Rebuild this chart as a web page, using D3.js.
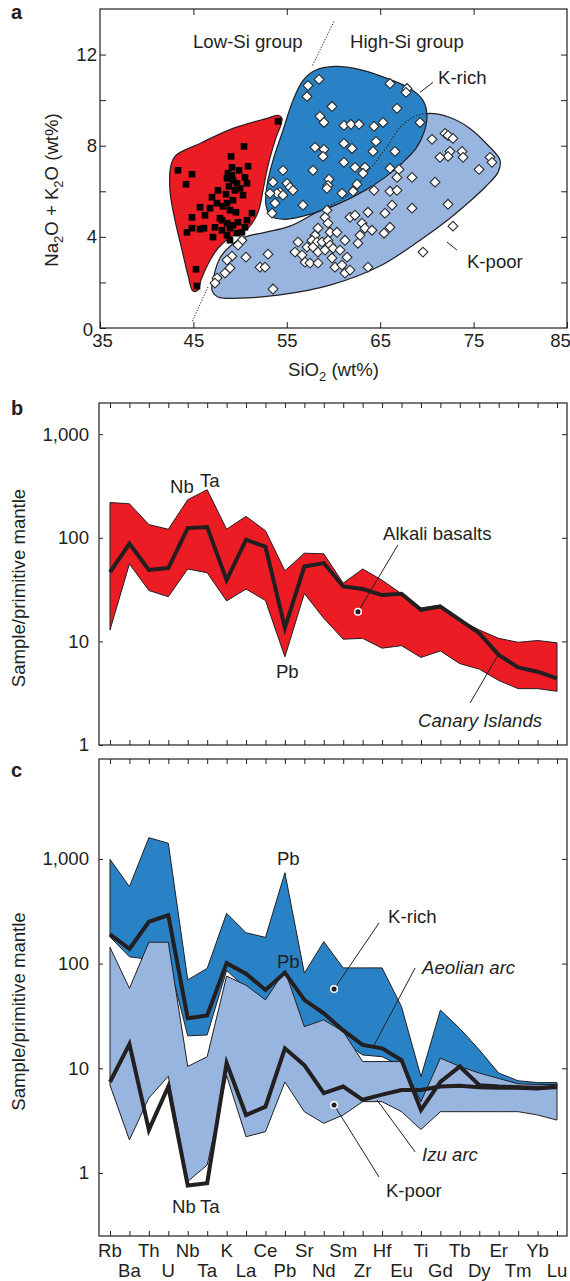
<!DOCTYPE html>
<html><head><meta charset="utf-8">
<script src="https://cdn.jsdelivr.net/npm/d3@7/dist/d3.min.js"></script>
<style>html,body{margin:0;padding:0;background:#fff;}svg{display:block;}</style>
</head><body>
<svg id="fig" width="570" height="1281"></svg>
<script>
// ---------- Panel a: total alkali vs silica ----------
const lowSiSamples = [
[54.06,9.07],[50.42,7.97],[49.03,7.53],[43.35,6.92],[44.85,6.75],[50.85,7.10],[49.13,7.05],[48.70,6.79],[49.13,6.70],[48.60,6.57],
[49.24,6.48],[49.67,6.35],[50.52,6.61],[50.74,6.35],[49.99,6.13],[49.45,6.04],[44.21,6.31],[46.99,5.74],[48.49,5.87],[49.24,5.61],
[48.60,5.48],[48.17,5.34],[45.71,5.30],[46.78,5.26],[47.53,5.48],[44.85,4.86],[47.85,4.82],[48.92,5.17],[50.74,4.73],[51.27,5.04],
[50.52,4.42],[48.06,4.73],[48.60,4.60],[49.24,4.51],[48.06,4.29],[48.60,4.07],[47.10,3.99],[45.71,4.34],[46.13,4.38],[44.31,4.20],
[44.85,4.38],[48.92,3.85],[49.67,4.16],[50.20,4.20],[45.28,2.58],[45.39,1.84],[49.56,5.08],[50.31,5.83],[47.63,6.04],[46.24,4.95],
[49.77,4.64],[48.92,4.38],[47.31,4.42],[49.88,6.92],[48.81,6.22]
];
const kRichSamples = [
[58.45,10.91],[57.27,10.64],[57.16,10.16],[66.05,10.73],[67.87,10.51],[67.76,10.34],[59.84,9.72],[66.80,9.64],[58.55,9.29],[58.98,9.02],
[61.12,8.89],[61.87,8.94],[62.73,8.94],[64.34,8.85],[65.30,9.02],[69.26,9.02],[58.02,7.93],[58.98,7.84],[58.88,7.53],[61.12,8.10],
[61.98,7.88],[64.55,8.19],[64.23,7.75],[66.58,7.75],[61.12,7.27],[62.30,7.05],[63.37,7.05],[63.16,6.79],[57.80,6.92],[54.59,6.92],
[59.52,6.53],[59.41,6.26],[59.30,6.13],[66.05,7.01],[67.01,6.96],[66.80,6.61],[62.52,6.31],[62.09,6.00],[60.91,5.91],[55.02,6.35],
[55.34,6.18],[55.66,6.04],[54.27,5.96],[53.52,6.40],[53.95,5.91],[53.20,5.91],[54.59,5.83],[53.74,5.48],[53.42,5.04],[56.73,5.39]
];
const kPoorSamples = [
[70.55,8.28],[71.94,8.54],[72.26,8.45],[72.79,8.32],[72.47,7.75],[72.26,7.53],[71.40,7.49],[73.76,7.75],[73.87,7.49],[76.76,7.49],
[76.97,7.27],[75.58,6.96],[70.87,6.40],[68.41,6.61],[64.34,6.04],[66.05,6.00],[66.80,6.04],[66.27,5.39],[65.51,5.04],[68.41,5.26],
[72.26,5.43],[72.79,4.47],[69.58,3.33],[63.69,2.67],[59.30,5.17],[59.09,4.86],[61.77,4.86],[62.30,4.95],[63.69,5.08],[63.05,4.60],
[63.37,4.38],[64.12,4.29],[65.41,4.16],[66.05,4.42],[62.84,4.07],[62.62,3.72],[59.41,4.60],[59.63,4.20],[60.37,4.20],[58.34,4.38],
[58.02,4.07],[57.70,3.85],[58.23,3.77],[58.77,3.77],[59.41,3.85],[59.63,3.64],[56.20,3.77],[55.88,3.33],[57.16,3.55],[57.80,3.55],
[58.34,3.33],[59.09,3.42],[59.95,3.50],[60.70,3.42],[61.23,3.85],[56.63,3.20],[56.95,2.89],[57.48,2.85],[58.34,2.85],[59.84,3.07],
[61.45,3.11],[60.16,2.67],[60.91,2.76],[61.23,2.41],[61.77,2.54],[50.20,3.85],[49.77,3.64],[49.13,3.15],[48.60,2.98],[48.92,2.63],
[48.38,2.41],[47.53,2.19],[47.31,1.97],[50.63,3.11],[52.99,3.24],[52.13,2.67],[52.67,2.67],[53.52,1.71]
];
// outlines of the three compositional fields (SiO2, Na2O+K2O)
const lowSiField = [[42.60,7.14],[43.14,7.58],[45.71,8.10],[49.24,8.76],[52.88,9.20],[54.06,9.33],[54.49,9.20],[53.74,8.23],[52.99,7.14],[52.45,6.04],
[51.92,5.08],[50.85,4.38],[49.13,4.03],[47.63,3.50],[46.56,2.80],[45.81,2.10],[45.49,1.66],[44.96,1.62],[44.42,2.32],[43.78,3.42],[43.03,4.73],[42.49,6.04]];
const kRichField = [[56.73,10.86],[58.02,11.30],[60.16,11.48],[62.84,11.34],[65.51,10.99],[68.19,10.51],[69.58,9.99],[70.01,9.33],[69.69,8.59],[68.83,7.88],
[67.33,7.23],[65.51,6.61],[63.37,6.04],[60.70,5.48],[57.48,4.99],[54.81,4.77],[53.31,4.91],[52.77,5.39],[52.88,6.26],[53.52,7.36],[54.59,8.67],[55.66,9.99]];
const kPoorField = [[46.99,1.66],[47.21,2.32],[47.85,3.07],[48.92,3.59],[50.52,3.99],[52.67,4.20],[55.34,4.47],[58.55,5.17],[61.55,5.83],[63.48,6.75],
[65.84,8.02],[67.12,8.80],[68.73,9.29],[70.33,9.42],[72.47,9.24],[74.61,8.76],[76.54,8.02],[77.83,7.36],[77.61,6.83],[76.33,6.22],
[74.61,5.56],[72.47,4.82],[69.26,3.85],[64.98,2.72],[59.63,1.88],[54.27,1.45],[49.99,1.31],[47.63,1.36]];
// low-Si / high-Si dividing line, shown outside the fields
const dividerTop = [[60.05,13.45],[57.70,11.48]];
const dividerBottom = [[46.56,1.80],[44.85,0.26]];
const silicaTicks = [35,45,55,65,75,85];
const alkaliTicks = [0,2,4,6,8,10,12,14];

// ---------- Panels b and c: primitive-mantle normalised patterns ----------
const elements = ["Rb","Ba","Th","U","Nb","Ta","K","La","Ce","Pb","Sr","Nd","Sm","Zr","Hf","Eu","Ti","Gd","Tb","Dy","Er","Tm","Yb","Lu"];
const canaryUpper = [219,213,134,121,233,291,121,161,117,48,71,70,36.5,50,39,28.8,21,22.5,16.1,12.9,10.7,9.8,10.2,9.7];
const canaryLower = [12.9,56,31,27,50,46,24.6,32,24.8,7.1,29,16.7,10.5,10.7,8.6,9.1,7.0,8.1,6.1,5.4,4.2,3.5,3.5,3.3];
const alkaliBasaltMean = [46.6,87.5,49,51,124,127,39,96,82,13.5,52.8,57,33.9,32,28,28.8,20.2,21.7,16.1,12,7.4,5.6,5.1,4.4];

const kRichUpper = [990,543,1595,1410,70,90,302,197,178,738,81,162,91,91,91,38.7,8.3,36,24,15,9.0,7.6,7.3,7.3];
const kRichLower = [180,116,110,110,20.4,20.8,86,58,42,80,23,27,18,13.4,12.9,10.5,4.0,11,9.5,8.2,7.4,6.8,6.7,6.7];
const kPoorUpper = [143,58,160,160,10.4,12.9,76,62,45,86,25,29,22.4,11.6,11.6,11.6,4.8,12.5,10.4,9.0,8.0,7.1,7.0,7.0];
const kPoorLower = [6.9,2.07,5.2,8.4,0.83,1.19,8.5,2.22,2.48,7.4,3.85,2.98,3.58,4.8,4.8,3.85,2.6,3.85,3.85,3.85,3.85,3.85,3.58,3.2];
const aeolianMean = [190,138,251,291,30,32,101,80,56,82,45,33.5,23,16.7,15.5,12,4.0,7.4,10.4,6.9,6.7,6.6,6.5,6.6];
const izuMean = [7.4,17,2.58,6.7,0.76,0.80,11.2,3.58,4.3,15.5,10.7,5.8,6.7,5.0,5.6,6.2,6.2,6.7,6.8,6.6,6.5,6.5,6.4,6.7];
const mantleTicks = [1,10,100,1000];

// ---------- styling ----------
const INK = "#231f20", RED = "#ec1c24", DARK = "#2a82c6", LIGHT = "#97b5df";
const FONT = "'Liberation Sans', Arial, Helvetica, sans-serif";
const FS = 18.6;
const svg = d3.select("#fig").attr("font-family", FONT);
const defs = svg.append("defs");

function tidy(g) {
  g.attr("color", INK);
  g.select(".domain").remove();
  g.selectAll(".tick line").attr("stroke-width", 1);
  g.selectAll(".tick text").attr("font-size", FS).attr("font-family", FONT).attr("fill", INK);
  return g;
}
function label(g, x, y, txt, opts = {}) {
  return g.append("text").attr("x", x).attr("y", y).text(txt)
    .attr("font-size", opts.size || FS).attr("fill", INK)
    .attr("font-style", opts.italic ? "italic" : null)
    .attr("font-weight", opts.bold ? "bold" : null)
    .attr("text-anchor", opts.anchor || "start");
}
function formula(textSel, parts) {
  let low = false;
  parts.forEach(([s, sub]) => {
    const t = textSel.append("tspan").text(s);
    if (sub) { t.attr("font-size", 13).attr("dy", 5); low = true; }
    else if (low) { t.attr("dy", -5); low = false; }
  });
}
function leader(g, sx, sy, pts) {
  g.append("path").attr("d", d3.line().x(d => sx(d[0])).y(d => sy(d[1]))(pts))
    .attr("fill", "none").attr("stroke", INK).attr("stroke-width", 1);
}
function dot(g, sx, sy, p) {
  g.append("circle").attr("cx", sx(p[0])).attr("cy", sy(p[1])).attr("r", 3.3)
    .attr("fill", INK).attr("stroke", "#fff").attr("stroke-width", 1.5);
}

// ================= Panel a =================
const A = {l: 100, r: 567, t: 9, b: 328};
const xA = d3.scaleLinear().domain([35, 85]).range([A.l, A.r]);
const yA = d3.scaleLinear().domain([0, 14]).range([A.b, A.t]);
const gA = svg.append("g");
const fieldPath = d3.line().x(d => xA(d[0])).y(d => yA(d[1])).curve(d3.curveCatmullRomClosed.alpha(0.5));
defs.append("clipPath").attr("id", "kRichClip").append("path").attr("d", fieldPath(kRichField));

gA.append("path").attr("d", fieldPath(kPoorField)).attr("fill", LIGHT).attr("stroke", INK).attr("stroke-width", 1.2);
gA.append("path").attr("d", fieldPath(lowSiField)).attr("fill", RED).attr("stroke", INK).attr("stroke-width", 1.2);
gA.append("path").attr("d", fieldPath(kRichField)).attr("fill", DARK).attr("stroke", INK).attr("stroke-width", 1.2);
// hidden part of the K-poor outline, dotted where it runs under the K-rich field
gA.append("path").attr("d", fieldPath(kPoorField)).attr("fill", "none").attr("stroke", INK)
  .attr("stroke-width", 1.2).attr("stroke-dasharray", "1.2,2").attr("clip-path", "url(#kRichClip)");

const straight = d3.line().x(d => xA(d[0])).y(d => yA(d[1]));
[dividerTop, dividerBottom].forEach(seg =>
  gA.append("path").attr("d", straight(seg)).attr("fill", "none").attr("stroke", INK)
    .attr("stroke-width", 1).attr("stroke-dasharray", "1.2,1.6"));

const squareSym = d3.symbol(d3.symbolSquare, 44)();
gA.selectAll("path.lowSi").data(lowSiSamples).join("path").attr("class", "lowSi")
  .attr("d", squareSym).attr("fill", "#000")
  .attr("transform", d => `translate(${xA(d[0])},${yA(d[1])})`);
const diamondSym = d3.symbol(d3.symbolSquare, 48)();
gA.selectAll("path.hiSi").data(kPoorSamples.concat(kRichSamples)).join("path").attr("class", "hiSi")
  .attr("d", diamondSym).attr("fill", "#fff").attr("stroke", "#2b2b2b").attr("stroke-width", 1.1)
  .attr("transform", d => `translate(${xA(d[0])},${yA(d[1])}) rotate(45)`);

const bottomA = tidy(gA.append("g").attr("transform", `translate(0,${A.b})`)
  .call(d3.axisBottom(xA).tickValues(silicaTicks).tickSize(-6).tickPadding(6).tickFormat(d3.format("d"))));
bottomA.selectAll(".tick text").filter(d => d === 85).attr("x", -7);
bottomA.selectAll(".tick text").filter(d => d === 35).attr("x", 2);
tidy(gA.append("g").attr("transform", `translate(0,${A.t})`)
  .call(d3.axisTop(xA).tickValues(silicaTicks.slice(1, -1)).tickSize(-6).tickFormat("")));
const leftA = tidy(gA.append("g").attr("transform", `translate(${A.l},0)`)
  .call(d3.axisLeft(yA).tickValues(alkaliTicks.slice(0, -1)).tickSize(-6).tickPadding(3)
    .tickFormat(d => d % 4 === 0 ? d : "")));
leftA.selectAll(".tick text").filter(d => d === 0).attr("x", -7).attr("dy", "0.42em");
tidy(gA.append("g").attr("transform", `translate(${A.r},0)`)
  .call(d3.axisRight(yA).tickValues(alkaliTicks.slice(1, -1)).tickSize(-6).tickFormat("")));
gA.append("rect").attr("x", A.l).attr("y", A.t).attr("width", A.r - A.l).attr("height", A.b - A.t)
  .attr("fill", "none").attr("stroke", INK).attr("stroke-width", 1.2);

label(gA, xA(44.96), yA(12.31), "Low-Si group");
label(gA, xA(61.77), yA(12.31), "High-Si group");
label(gA, xA(71.19), yA(10.73), "K-rich");
leader(gA, xA, yA, [[69.26, 10.34], [70.65, 10.78]]);
label(gA, xA(74.29), yA(2.63), "K-poor");
leader(gA, xA, yA, [[72.15, 3.77], [73.22, 3.42]]);
formula(label(gA, (A.l + A.r) / 2, 376, "", {anchor: "middle"}), [["SiO"], ["2", 1], [" (wt%)"]]);
formula(label(gA, 0, 0, "", {anchor: "middle"}).attr("transform", "translate(58,190) rotate(-90)"),
  [["Na"], ["2", 1], ["O + K"], ["2", 1], ["O (wt%)"]]);
label(gA, 11, 19, "a", {bold: true, size: 20});

// ================= Panels b and c =================
const xE = d3.scalePoint().domain(elements).range([110, 557]);
const xi = i => xE.range()[0] + i * xE.step();   // fractional element position

function spiderFrame(g, y, top, bottom) {
  tidy(g.append("g").attr("transform", `translate(0,${top})`).call(d3.axisTop(xE).tickSize(-5).tickFormat("")));
  tidy(g.append("g").attr("transform", `translate(0,${bottom})`).call(d3.axisBottom(xE).tickSize(-5).tickFormat("")));
  tidy(g.append("g").attr("transform", `translate(99,0)`)
    .call(d3.axisLeft(y).tickValues(mantleTicks).tickSize(-4).tickPadding(10).tickFormat(d3.format(","))));
  tidy(g.append("g").attr("transform", `translate(567,0)`)
    .call(d3.axisRight(y).tickValues(mantleTicks.filter(v => y(v) < bottom - 2)).tickSize(-5).tickFormat("")));
  g.append("rect").attr("x", 99).attr("y", top).attr("width", 468).attr("height", bottom - top)
    .attr("fill", "none").attr("stroke", INK).attr("stroke-width", 1.2);
  label(g, 0, 0, "Sample/primitive mantle", {anchor: "middle"})
    .attr("transform", `translate(25,${(top + bottom) / 2 + 14}) rotate(-90)`);
}
function band(g, y, upper, lower, fill) {
  const area = d3.area().x((d, i) => xE(elements[i])).y1(d => y(d[0])).y0(d => y(d[1]));
  g.append("path").attr("d", area(d3.zip(upper, lower)) + "Z").attr("fill", fill)
    .attr("stroke", INK).attr("stroke-width", 1).attr("stroke-linejoin", "miter");
}
function meanLine(g, y, vals) {
  g.append("path").attr("d", d3.line().x((d, i) => xE(elements[i])).y(d => y(d))(vals))
    .attr("fill", "none").attr("stroke", INK).attr("stroke-width", 4).attr("stroke-linejoin", "miter");
}

// ---- panel b ----
const B = {t: 403, b: 745};
const yB = d3.scaleLog().domain([1, 2000]).range([B.b, B.t]);
const gB = svg.append("g");
band(gB, yB, canaryUpper, canaryLower, RED);
meanLine(gB, yB, alkaliBasaltMean);
label(gB, xi(3.09), yB(272), "Nb");
label(gB, xi(4.63), yB(311), "Ta");
label(gB, xi(8.54), yB(4.44), "Pb");
label(gB, xi(14.05), yB(95.7), "Alkali basalts");
leader(gB, xi, yB, [[14.82, 85.6], [12.76, 19.3]]);
dot(gB, xi, yB, [12.76, 19.3]);
label(gB, xi(15.85), yB(1.49), "Canary Islands", {italic: true});
leader(gB, xi, yB, [[18.53, 2.55], [19.97, 7.4]]);
spiderFrame(gB, yB, B.t, B.b);
label(gB, 11, 415, "b", {bold: true, size: 20});

// ---- panel c ----
const C = {t: 759, b: 1236};
const yC = d3.scaleLog().domain([0.25, 9000]).range([C.b, C.t]);
const gC = svg.append("g");
band(gC, yC, kRichUpper, kRichLower, DARK);
band(gC, yC, kPoorUpper, kPoorLower, LIGHT);
meanLine(gC, yC, aeolianMean);
meanLine(gC, yC, izuMean);
label(gC, xi(8.59), yC(875), "Pb");
label(gC, xi(8.59), yC(90.8), "Pb");
label(gC, xi(3.19), yC(0.415), "Nb");
label(gC, xi(4.63), yC(0.415), "Ta");
label(gC, xi(14.31), yC(244), "K-rich");
leader(gC, xi, yC, [[13.84, 244], [11.53, 57.2]]);
dot(gC, xi, yC, [11.53, 57.2]);
label(gC, xi(16.06), yC(79.6), "Aeolian arc", {italic: true});
leader(gC, xi, yC, [[15.70, 90.8], [13.54, 16.0]]);
label(gC, xi(16.06), yC(1.30), "Izu arc", {italic: true});
leader(gC, xi, yC, [[15.70, 1.59], [13.74, 4.98]]);
label(gC, xi(14.2), yC(0.59), "K-poor");
leader(gC, xi, yC, [[13.84, 0.916], [11.53, 4.46]]);
dot(gC, xi, yC, [11.53, 4.46]);
spiderFrame(gC, yC, C.t, C.b);
label(gC, 11, 777, "c", {bold: true, size: 20});

// element names in two staggered rows
gC.selectAll("text.el").data(elements).join("text").attr("class", "el")
  .attr("x", d => xE(d)).attr("y", (d, i) => i % 2 ? 1277 : 1257)
  .attr("text-anchor", "middle").attr("font-size", FS).attr("fill", INK).text(d => d);
</script>
</body></html>
